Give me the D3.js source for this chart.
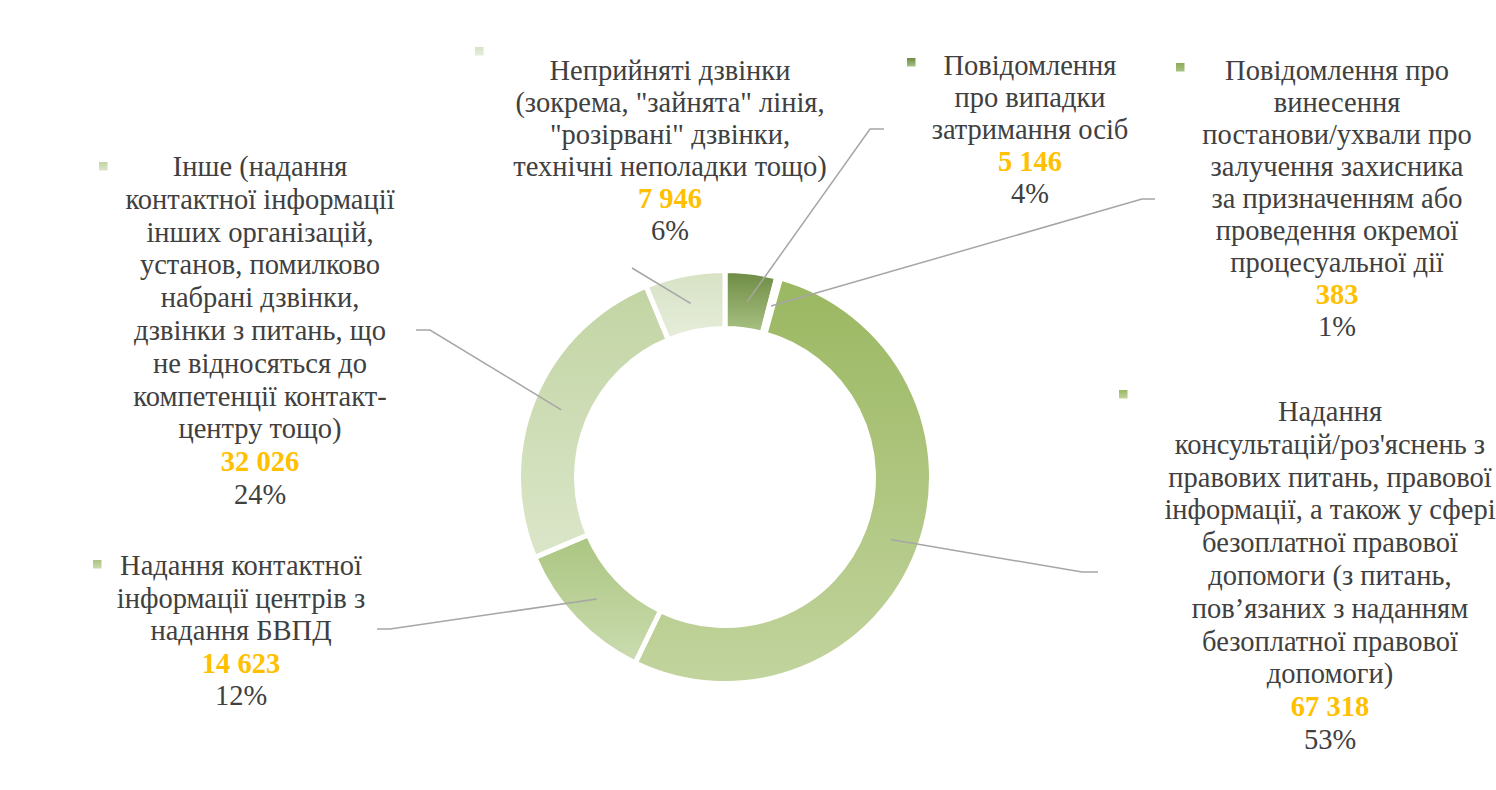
<!DOCTYPE html>
<html>
<head>
<meta charset="utf-8">
<script src="https://cdn.jsdelivr.net/npm/d3@7"></script>
<style>
html,body{margin:0;padding:0;background:#fff;}
svg{display:block;}
</style>
</head>
<body>
<svg id="chart" width="1496" height="790"></svg>
<script>
// ---- data ----
const categories = [
  "Повідомлення про випадки затримання осіб",
  "Повідомлення про винесення постанови/ухвали про залучення захисника за призначенням або проведення окремої процесуальної дії",
  "Надання консультацій/роз'яснень з правових питань, правової інформації, а також у сфері безоплатної правової допомоги (з питань, пов’язаних з наданням безоплатної правової допомоги)",
  "Надання контактної інформації центрів з надання БВПД",
  "Інше (надання контактної інформації інших організацій, установ, помилково набрані дзвінки, дзвінки з питань, що не відносяться до компетенції контакт-центру тощо)",
  "Неприйняті дзвінки (зокрема, \"зайнята\" лінія, \"розірвані\" дзвінки, технічні неполадки тощо)"
];
const values = [5146, 383, 67318, 14623, 32026, 7946];
const valueLabels = ["5 146", "383", "67 318", "14 623", "32 026", "7 946"];
const percentLabels = ["4%", "1%", "53%", "12%", "24%", "6%"];
const labelLines = [
  ["Повідомлення", "про випадки", "затримання осіб"],
  ["Повідомлення про", "винесення", "постанови/ухвали про", "залучення захисника", "за призначенням або", "проведення окремої", "процесуальної дії"],
  ["Надання", "консультацій/роз'яснень з", "правових питань, правової", "інформації, а також у сфері", "безоплатної правової", "допомоги (з питань,", "пов’язаних з наданням", "безоплатної правової", "допомоги)"],
  ["Надання контактної", "інформації центрів з", "надання БВПД"],
  ["Інше (надання", "контактної інформації", "інших організацій,", "установ, помилково", "набрані дзвінки,", "дзвінки з питань, що", "не відносяться до", "компетенції контакт-", "центру тощо)"],
  ["Неприйняті дзвінки", "(зокрема, \"зайнята\" лінія,", "\"розірвані\" дзвінки,", "технічні неполадки тощо)"]
];

// ---- style / layout ----
const gradTop = ["#6d8b43", "#8cab5b", "#9ab760", "#aac580", "#c2d4a3", "#d7e2c4"];
const gradBot = ["#a9c283", "#a9c283", "#c2d49e", "#cbdcb0", "#dbe6c9", "#e6eddb"];
const cx = 725, cy = 477, rOuter = 206.5, rInner = 148.5;
const labelPos = [ // center x, first baseline, line height
  [1030, 75, 32], [1337, 80, 32], [1330, 421, 32.8], [241, 575, 32.5], [260, 176, 32.8], [670, 80, 32]
];
const markerPos = [[907, 58], [1176, 63], [1119, 390], [93, 560], [99, 162], [475, 47]];
const leaderEnd = [ // bend point, end point
  [[870, 129], [884, 129]],
  [[1142, 199], [1155, 199]],
  [[1082, 572], [1098, 572]],
  [[390, 629], [377, 629]],
  [[430, 330], [416, 330]],
  [[632, 268], [632, 268]]
];

const svg = d3.select("#chart");
const defs = svg.append("defs");
values.forEach((v, i) => {
  const g = defs.append("linearGradient").attr("id", "g" + i)
    .attr("x1", 0).attr("y1", 0).attr("x2", 0).attr("y2", 1);
  g.append("stop").attr("offset", "0%").attr("stop-color", gradTop[i]);
  g.append("stop").attr("offset", "100%").attr("stop-color", gradBot[i]);
});

const pie = d3.pie().sort(null).value(d => d)(values);
const arc = d3.arc().innerRadius(rInner).outerRadius(rOuter);
const midArc = d3.arc().innerRadius(177).outerRadius(177);

const gPie = svg.append("g").attr("transform", `translate(${cx},${cy})`);
gPie.selectAll("path.slice").data(pie).enter().append("path")
  .attr("class", "slice")
  .attr("d", arc)
  .attr("fill", (d, i) => `url(#g${i})`)
  .attr("stroke", "#fff").attr("stroke-width", 5).attr("stroke-linejoin", "miter");

// leader lines
const line = d3.line();
pie.forEach((d, i) => {
  const c = midArc.centroid(d);
  const pts = [[cx + c[0], cy + c[1]], leaderEnd[i][0], leaderEnd[i][1]];
  svg.append("path").attr("d", line(pts))
    .attr("fill", "none").attr("stroke", "#a6a6a6").attr("stroke-width", 1.5);
});

// labels
const font = "'Liberation Serif','Times New Roman',serif";
labelLines.forEach((lines, i) => {
  const [x, y0, lh] = labelPos[i];
  const t = svg.append("text").attr("text-anchor", "middle")
    .style("font-family", font).style("font-size", "28.5px").attr("fill", "#404040");
  lines.forEach((s, k) => {
    t.append("tspan").attr("x", x).attr("y", y0 + k * lh).text(s);
  });
  t.append("tspan").attr("x", x).attr("y", y0 + lines.length * lh)
    .attr("fill", "#ffc000").style("font-weight", "bold").text(valueLabels[i]);
  t.append("tspan").attr("x", x).attr("y", y0 + (lines.length + 1) * lh)
    .text(percentLabels[i]);
  svg.append("rect").attr("x", markerPos[i][0]).attr("y", markerPos[i][1])
    .attr("width", 8.5).attr("height", 8.5).attr("fill", `url(#g${i})`);
});
</script>
</body>
</html>
